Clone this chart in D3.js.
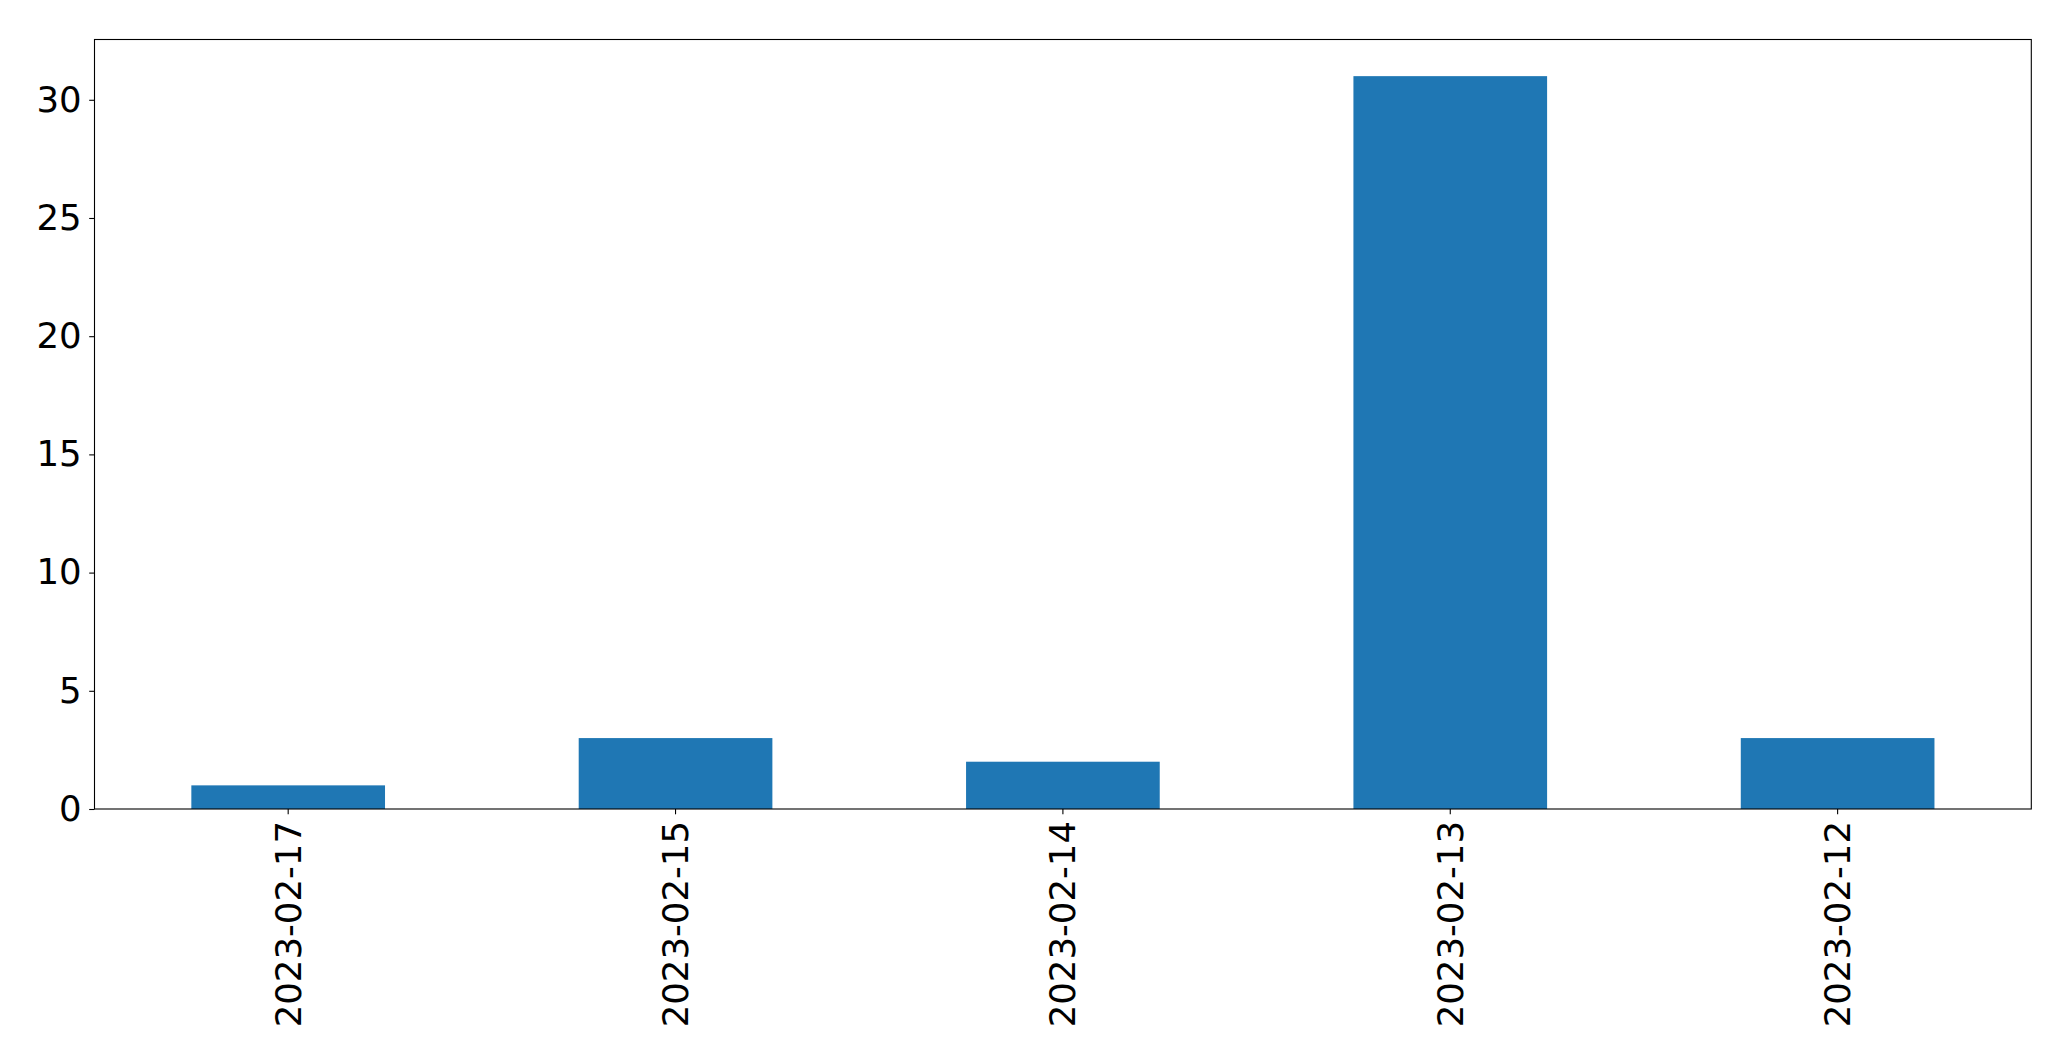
<!DOCTYPE html>
<html><head><meta charset="utf-8">
<script src="https://cdn.jsdelivr.net/npm/d3@7"></script>
<style>html,body{margin:0;padding:0;background:#fff;}svg{display:block;}</style>
</head><body>
<svg id="chart" width="2071" height="1061"></svg>
<script>
const categories = ["2023-02-17","2023-02-15","2023-02-14","2023-02-13","2023-02-12"];
const values = [1, 3, 2, 31, 3];
const yTicks = [0, 5, 10, 15, 20, 25, 30];

const W = 2071, H = 1061;
const m = {left: 94.5, right: 2031.3, top: 39.5, bottom: 809};
const svg = d3.select("#chart");
const fontSize = 35.5;
const font = "DejaVu Sans, sans-serif";

const x = d3.scaleBand().domain(categories).range([m.left, m.right]).paddingInner(0.5).paddingOuter(0.25);
const y = d3.scaleLinear().domain([0, d3.max(values) * 1.05]).range([m.bottom, m.top]);

svg.append("g").selectAll("rect").data(values).join("rect")
  .attr("x", (d, i) => x(categories[i]))
  .attr("width", x.bandwidth())
  .attr("y", d => y(d))
  .attr("height", d => y(0) - y(d))
  .attr("fill", "#1f77b4");

const yAxis = svg.append("g").attr("transform", `translate(${m.left},0)`)
  .call(d3.axisLeft(y).tickValues(yTicks).tickSize(5.3).tickPadding(7.5).tickFormat(d3.format("d")));
yAxis.select(".domain").remove();
yAxis.selectAll("line").attr("stroke", "#000").attr("stroke-width", 1.1);
yAxis.selectAll("text").attr("font-family", font).attr("font-size", fontSize).attr("fill", "#000");

const xAxis = svg.append("g").attr("transform", `translate(0,${m.bottom})`)
  .call(d3.axisBottom(x).tickSize(5.3).tickPadding(0));
xAxis.select(".domain").remove();
xAxis.selectAll("line").attr("stroke", "#000").attr("stroke-width", 1.1);
xAxis.selectAll("text")
  .attr("font-family", font).attr("font-size", fontSize).attr("fill", "#000")
  .attr("text-anchor", "end").attr("dy", null)
  .attr("dominant-baseline", "central")
  .attr("transform", "translate(0,12) rotate(-90)")
  .attr("y", 0).attr("x", 0);

svg.append("rect")
  .attr("x", m.left).attr("y", m.top)
  .attr("width", m.right - m.left).attr("height", m.bottom - m.top)
  .attr("fill", "none").attr("stroke", "#000").attr("stroke-width", 1.1);
</script>
</body></html>
